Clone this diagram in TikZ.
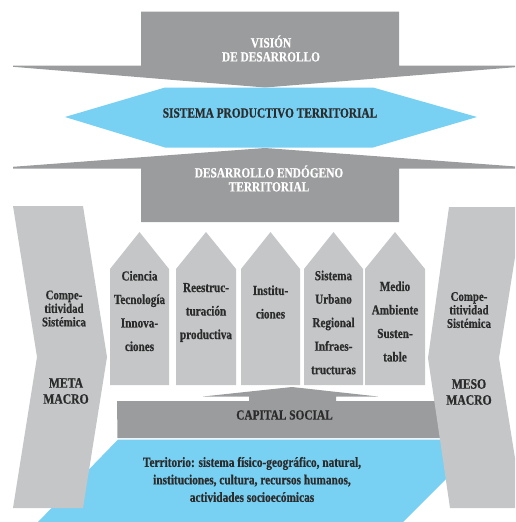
\documentclass[tikz,border=0pt]{standalone}
\usepackage{fontspec}
\setmainfont{Liberation Serif}[FakeStretch=0.81, BoldFeatures={FakeBold=0.6}]
\definecolor{dgray}{HTML}{9B9C9E}
\definecolor{lgray}{HTML}{C5C6C8}
\definecolor{sky}{HTML}{78D0F3}
\definecolor{ink}{HTML}{2B2B2B}
\begin{document}
\begin{tikzpicture}[x=1pt,y=-1pt,
  darkshape/.style={fill=dgray},
  lightshape/.style={fill=lgray},
  blueshape/.style={fill=sky},
  txt/.style={inner sep=0pt, align=center, text=ink},
  captxt/.style={txt, font=\fontsize{14}{14}\selectfont\bfseries},
  whitecap/.style={captxt, text=white},
  pentxt/.style={txt, font=\fontsize{13.8}{23.5}\selectfont\bfseries},
  sidetxt/.style={txt, font=\fontsize{13.4}{13.5}\selectfont\bfseries},
  leveltxt/.style={txt, font=\fontsize{14.4}{16}\selectfont\bfseries},
  territxt/.style={txt, font=\fontsize{14}{17.5}\selectfont\bfseries}]
\useasboundingbox (0,0) rectangle (515,522);
\begin{scope}
\clip (0,0) rectangle (515,522);
% top arrow
\fill[darkshape] (141,11.5) -- (399,11.5) -- (399,65.5) -- (520,65.5) -- (520,66.8) -- (265,87.5) -- (13,66.8) -- (13,65.5) -- (141,65.5) -- cycle;
% hexagon
\fill[blueshape] (65,117) -- (165,87.5) -- (373,87.5) -- (477,117) -- (373,147.5) -- (165,147.5) -- cycle;
% second arrow
\fill[darkshape] (265,148) -- (520,166.8) -- (520,168.5) -- (399,168.5) -- (399,222) -- (141,222) -- (141,168.5) -- (13,168.5) -- (13,166.8) -- cycle;
% pentagons
\foreach \l/\r in {110/169, 176/236, 241/300, 304/363, 365/425}{
  \fill[lightshape] (\l,385) -- (\l,269) -- ({(\l+\r)/2},232) -- (\r,269) -- (\r,385) -- cycle;
}
% capital social arrow and bar
\fill[darkshape] (203,396.5) -- (292,387) -- (378,396.5) -- (336,396.5) -- (336,401) -- (249,401) -- (249,396.5) -- cycle;
\fill[darkshape] (117,401) -- (441,401) -- (441,438) -- (117.5,438) -- cycle;
% territory
\fill[blueshape] (118,439.5) -- (441,439.5) -- (447,478) -- (402,523) -- (37,523) -- cycle;
% side chevrons
\fill[lightshape] (13,206) -- (83,206) -- (107,357) -- (83,508) -- (13,508) -- (37,357) -- cycle;
\fill[lightshape] (449,207) -- (523,207) -- (499,358) -- (523,508) -- (450,508) -- (428,358) -- cycle;
\end{scope}
% texts
\node[whitecap] (vision) at (271,48.5) {VISIÓN\\DE DESARROLLO};
\node[captxt] (spt) at (270,113) {SISTEMA PRODUCTIVO TERRITORIAL};
\node[whitecap] (det) at (269,178.5) {DESARROLLO ENDÓGENO\\TERRITORIAL};
\node[pentxt] (p1) at (139.5,311) {Ciencia\\Tecnología\\Innova-\\ciones};
\node[pentxt] (p2) at (206,312.5) {Reestruc-\\turación\\productiva};
\node[pentxt] (p3) at (270.5,302) {Institu-\\ciones};
\node[pentxt] (p4) at (333.5,322.5) {Sistema\\Urbano\\Regional\\Infraes-\\tructuras};
\node[pentxt] (p5) at (395,321.5) {Medio\\Ambiente\\Susten-\\table};
\node[sidetxt] (cl) at (64,308.5) {Compe-\\titividad\\Sistémica};
\node[leveltxt] (ml) at (66,391) {META\\MACRO};
\node[sidetxt] (cr) at (469,310) {Compe-\\titividad\\Sistémica};
\node[leveltxt] (mr) at (469,392) {MESO\\MACRO};
\node[captxt] (cs) at (284.5,415) {CAPITAL SOCIAL};
\node[territxt] (terr) at (252,479.5) {Territorio: sistema físico-geográfico, natural,\\instituciones, cultura, recursos humanos,\\actividades socioecómicas};
\end{tikzpicture}
\end{document}
